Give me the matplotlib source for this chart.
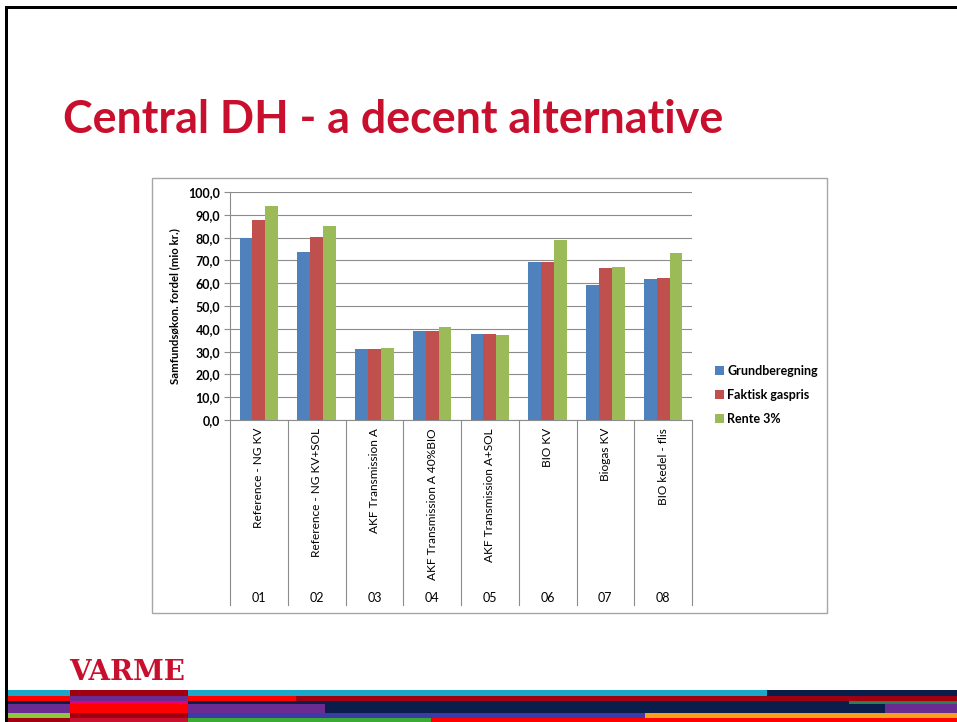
import numpy as np
import matplotlib.pyplot as plt
from matplotlib.patches import Rectangle
from matplotlib.ticker import FuncFormatter
import matplotlib.transforms as mtransforms

# data
scenarios = ['Reference - NG KV', 'Reference - NG KV+SOL', 'AKF Transmission A',
             'AKF Transmission A 40%BIO', 'AKF Transmission A+SOL', 'BIO KV',
             'Biogas KV', 'BIO kedel - flis']
codes = ['01', '02', '03', '04', '05', '06', '07', '08']
series = ['Grundberegning', 'Faktisk gaspris', 'Rente 3%']
grund = [80.0, 73.9, 31.0, 39.2, 37.6, 69.1, 59.0, 61.9]
faktisk = [87.5, 80.4, 31.0, 39.2, 37.6, 69.5, 66.6, 62.4]
rente = [93.8, 85.3, 31.5, 40.8, 37.2, 78.9, 67.3, 73.1]
colors = ['#4F81BD', '#C0504D', '#9BBB59']

W, H = 957, 722
fig = plt.figure(figsize=(W / 100, H / 100), dpi=100)
fig.patch.set_facecolor('white')


def px(x0, y0, x1, y1):
    # pixel box (top-left origin) -> figure fraction rect
    return (x0 / W, 1 - y1 / H), (x1 - x0) / W, (y1 - y0) / H


def add_rect(x0, y0, x1, y1, fc, ec='none', lw=0, z=-1):
    xy, w, h = px(x0, y0, x1, y1)
    fig.patches.append(Rectangle(xy, w, h, transform=fig.transFigure,
                                 facecolor=fc, edgecolor=ec, lw=lw, zorder=z))


# slide frame (black lines top and left)
add_rect(5, 6, 957, 9, 'black')
add_rect(5, 6, 8, 722, 'black')

# title
crimson = '#C8102E'
fig.text(63 / W, 1 - 120 / H, 'Central DH - a decent alternative', fontsize=32.3,
         fontweight='bold', color=crimson, family='Lato', va='center', ha='left')

# chart box
add_rect(152, 178, 827, 613, 'white', ec='#A6A6A6', lw=1.0, z=-2)

ax = fig.add_axes([230 / W, 1 - 420 / H, 462 / W, 228 / H])
ax.set_facecolor('none')

n = len(scenarios)
x = np.arange(n)
bw = 1 / 4.5
for i, (vals, lab) in enumerate(zip([grund, faktisk, rente], series)):
    ax.bar(x + (i - 1) * bw, vals, bw, color=colors[i], label=lab, zorder=3)

ax.set_xlim(-0.5, n - 0.5)
ax.set_ylim(0, 100)
ax.set_yticks(np.arange(0, 101, 10))
ax.yaxis.set_major_formatter(FuncFormatter(lambda v, p: f'{v:.1f}'.replace('.', ',')))
ax.grid(axis='y', color='#8C8C8C', lw=0.8, zorder=0)
for s in ['top', 'right']:
    ax.spines[s].set_visible(False)
for s in ['left', 'bottom']:
    ax.spines[s].set_color('#8C8C8C')
ax.tick_params(axis='y', length=4, color='#8C8C8C', labelsize=9, pad=3)
for t in ax.get_yticklabels():
    t.set_fontweight('bold')
    t.set_family('Lato')
ax.set_ylabel('Samfundsøkon. fordel (mio kr.)', fontsize=8.2, fontweight='bold',
              family='Lato', labelpad=6)

ax.set_xticks(x)
ax.set_xticklabels([])
ax.tick_params(axis='x', length=0)

# category table below the axis
trans = mtransforms.blended_transform_factory(ax.transData, ax.transAxes)
bottom = (420 - 605) / 228
for b in np.arange(-0.5, n, 1.0):
    ax.plot([b, b], [0, bottom], transform=trans, color='#8C8C8C', lw=0.8,
            clip_on=False)
for xi, lab, code in zip(x, scenarios, codes):
    ax.text(xi, -8 / 228, lab, transform=trans, rotation=90, ha='center',
            va='top', fontsize=8.6, family='Lato')
    ax.text(xi, (420 - 598) / 228, code, transform=trans, ha='center',
            va='center', fontsize=9, family='Lato')

leg = ax.legend(loc='center left', bbox_to_anchor=(704 / W, 1 - 395 / H),
                bbox_transform=fig.transFigure, frameon=False,
                prop={'family': 'Lato', 'weight': 'bold', 'size': 9},
                handlelength=0.7, handleheight=0.7, handletextpad=0.25,
                labelspacing=0.95)

# footer logo
fig.text(69 / W, 1 - 672 / H, 'VARME', fontsize=20, fontweight='bold',
         color=crimson, family='DejaVu Serif', va='center', ha='left')

# coloured stripes at the bottom
stripes = [
    (690, 696, [(8, 70, '#1AA7C8'), (70, 188, '#A00010'), (188, 767, '#1AA7C8'),
                (767, 957, '#0B1D4B')]),
    (696, 701, [(8, 70, '#FF0000'), (70, 188, '#6B2C91'), (188, 296, '#FF0000'),
                (296, 957, '#A00010')]),
    (701, 704, [(8, 70, '#0B1D4B'), (70, 188, '#E6007E'), (188, 849, '#0B1D4B'),
                (849, 957, '#2E7D4F')]),
    (704, 713, [(8, 70, '#6B2C91'), (70, 188, '#FF0000'), (188, 325, '#6B2C91'),
                (325, 885, '#0B1D4B'), (885, 957, '#6B2C91')]),
    (713, 718, [(8, 70, '#8DC63F'), (70, 188, '#A00010'), (188, 645, '#3A3AA8'),
                (645, 957, '#F7A11A')]),
    (718, 722, [(8, 70, '#A00010'), (70, 188, '#C8102E'), (188, 431, '#3AAA35'),
                (431, 957, '#FF0000')]),
]
for y0, y1, segs in stripes:
    for x0, x1, c in segs:
        add_rect(x0, y0, x1, y1, c)

fig.savefig('out.png', dpi=100)
